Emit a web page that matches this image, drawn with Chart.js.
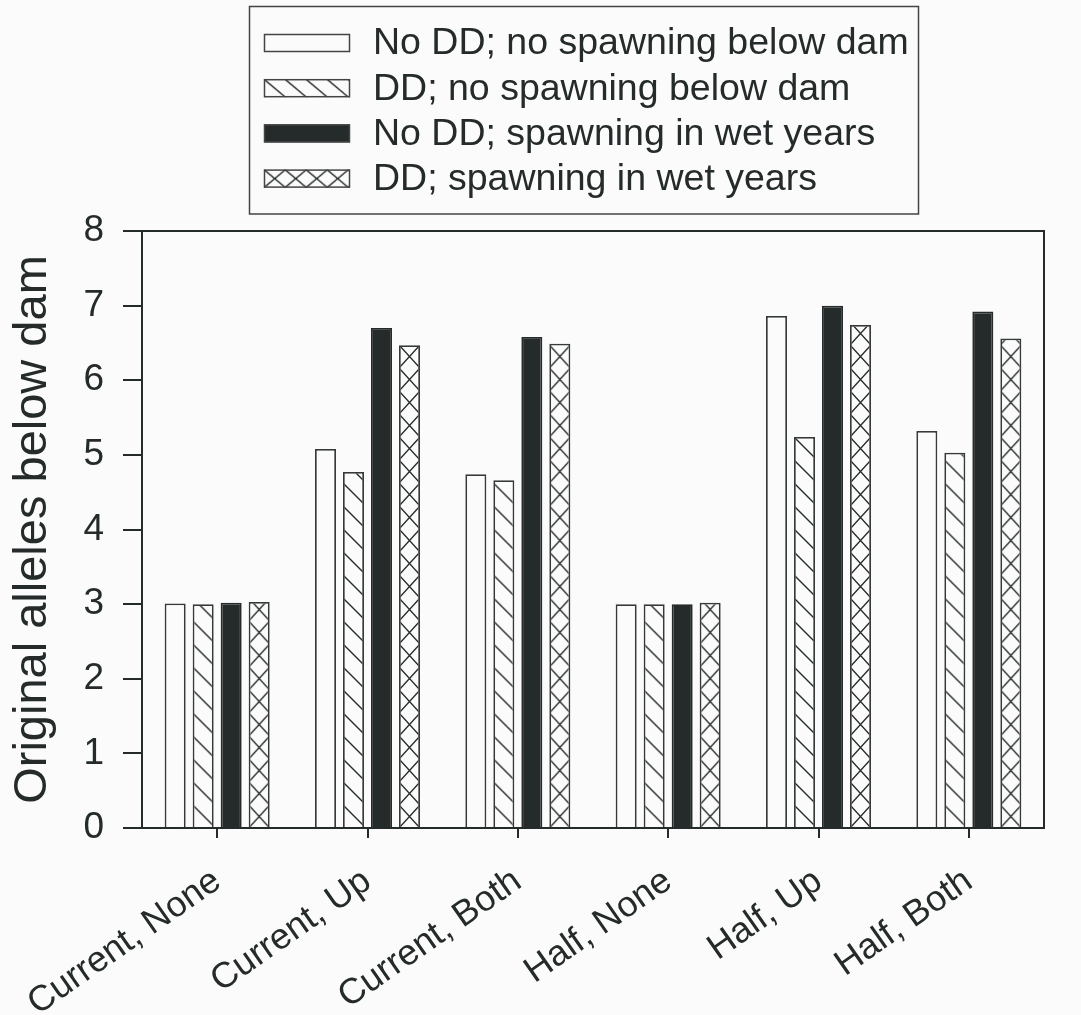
<!DOCTYPE html>
<html>
<head>
<meta charset="utf-8">
<script src="https://cdn.jsdelivr.net/npm/chart.js@4/dist/chart.umd.min.js"></script>
<style>
  html, body { margin: 0; padding: 0; background: #fbfbfb; }
  #wrap { width: 1081px; height: 1015px; position: relative; }
</style>
</head>
<body>
<div id="wrap"><canvas id="chart"></canvas></div>
<script>
// ---- data ----
const CATEGORIES = ['Current, None', 'Current, Up', 'Current, Both', 'Half, None', 'Half, Up', 'Half, Both'];
const SERIES_LABELS = [
  'No DD; no spawning below dam',
  'DD; no spawning below dam',
  'No DD; spawning in wet years',
  'DD; spawning in wet years',
];
const NO_DD_NO_SPAWN = [3.01, 5.08, 4.74, 3.00, 6.86, 5.32];
const DD_NO_SPAWN    = [3.00, 4.77, 4.66, 3.00, 5.24, 5.03];
const NO_DD_WET      = [3.02, 6.70, 6.58, 3.00, 7.00, 6.92];
const DD_WET         = [3.03, 6.47, 6.49, 3.02, 6.74, 6.56];
const Y_MIN = 0, Y_MAX = 8, Y_STEP = 1;

const INK     = '#252b2a';
const FONT    = "'Liberation Sans', Arial, sans-serif";
const CAT_PCT = 0.745;
const BAR_PCT = 0.75;

// small tiles for the hatch fills
function makeTile(w, h, kind) {
  const c = document.createElement('canvas');
  c.width = w; c.height = h;
  const g = c.getContext('2d');
  g.fillStyle = '#fbfbfb';
  g.fillRect(0, 0, w, h);
  g.strokeStyle = INK;
  g.lineWidth = 1.4;
  g.beginPath();
  for (let k = -1; k <= 1; k++) {
    g.moveTo(k * w, 0); g.lineTo(k * w + w, h);
    if (kind === 'cross') { g.moveTo(k * w + w, 0); g.lineTo(k * w, h); }
  }
  g.stroke();
  return c;
}

const BAR_TILES = [null, makeTile(23, 23, 'hatch'), null, makeTile(21, 23, 'cross')];
const KEY_TILES = [null, makeTile(21.5, 18, 'hatch'), null, makeTile(21.5, 18, 'cross')];

function tiledFill(g, tile, x0, y0) {
  const p = g.createPattern(tile, 'repeat');
  p.setTransform(new DOMMatrix().translate(x0, y0));
  return p;
}

// fill aligned to the left edge of each bar
function barFill(i) {
  return (c) => {
    const chart = c.chart;
    const xs = chart.scales.x;
    if (c.type !== 'data' || !xs || !chart.chartArea) return tiledFill(chart.ctx, BAR_TILES[i], 0, 0);
    const catW  = xs.width / CATEGORIES.length;
    const pitch = catW * CAT_PCT / SERIES_LABELS.length;
    const left  = xs.getPixelForValue(c.dataIndex) + (c.datasetIndex - 1.5) * pitch - pitch * BAR_PCT / 2;
    return tiledFill(chart.ctx, BAR_TILES[i], left, chart.chartArea.bottom);
  };
}

const background = {
  id: 'background',
  beforeDraw(chart) {
    const { ctx, width, height } = chart;
    ctx.save();
    ctx.fillStyle = '#fbfbfb';
    ctx.fillRect(0, 0, width, height);
    ctx.restore();
  },
};

const frame = {
  id: 'frame',
  afterDatasetsDraw(chart) {
    const { ctx, chartArea: a } = chart;
    ctx.save();
    ctx.strokeStyle = INK;
    ctx.lineWidth = 2;
    ctx.strokeRect(a.left, a.top, a.right - a.left, a.bottom - a.top);
    ctx.restore();
  },
};

// boxed key above the plot, one entry per row
const keyBox = {
  id: 'keyBox',
  afterDraw(chart) {
    const ctx = chart.ctx;
    ctx.save();
    ctx.strokeStyle = '#444';
    ctx.lineWidth = 1.5;
    ctx.strokeRect(249.5, 6.5, 669, 207.5);
    ctx.font = `37.5px ${FONT}`;
    ctx.textBaseline = 'middle';
    chart.data.datasets.forEach((ds, i) => {
      const cy = 43 + i * 45.2;
      const x = 264, w = 86, h = 18, y = cy - h / 2;
      ctx.fillStyle = KEY_TILES[i] ? tiledFill(ctx, KEY_TILES[i], x, y) : ds.keyColor;
      ctx.fillRect(x, y, w, h);
      ctx.strokeStyle = '#444';
      ctx.lineWidth = 1.5;
      ctx.strokeRect(x + 0.5, y + 0.5, w - 1, h - 1);
      ctx.fillStyle = INK;
      ctx.fillText(ds.label, 373, cy + 1);
    });
    ctx.restore();
  },
};

const series = [NO_DD_NO_SPAWN, DD_NO_SPAWN, NO_DD_WET, DD_WET];
const fills  = ['#fbfbfb', barFill(1), INK, barFill(3)];

new Chart(document.getElementById('chart'), {
  type: 'bar',
  data: {
    labels: CATEGORIES,
    datasets: series.map((vals, i) => ({
      label:           SERIES_LABELS[i],
      data:            vals,
      backgroundColor: fills[i],
      keyColor:        i === 2 ? INK : '#fbfbfb',
      borderColor:     i === 2 ? INK : '#353a39',
      borderWidth:     1.8,
      borderSkipped:   'start',
      categoryPercentage: CAT_PCT,
      barPercentage:      BAR_PCT,
    })),
  },
  options: {
    responsive:          true,
    maintainAspectRatio: false,
    animation:           false,
    layout: { padding: { top: 231, right: 37, left: 0, bottom: 0 } },
    plugins: {
      legend:  { display: false },
      tooltip: { enabled: false },
    },
    scales: {
      x: {
        offset: true,
        afterFit: s => { s.height = 187; s.paddingLeft = 0; s.paddingRight = 0; },
        grid:   { offset: false, drawOnChartArea: false, tickLength: 10, color: INK, lineWidth: 2 },
        border: { color: INK, width: 2 },
        ticks: {
          color: INK,
          font: { family: FONT, size: 36 },
          minRotation: 35,
          maxRotation: 35,
          autoSkip: false,
          padding: 22,
        },
      },
      y: {
        min: Y_MIN,
        max: Y_MAX,
        afterFit: s => { s.width = 142; s.paddingTop = 0; s.paddingBottom = 0; },
        grid:   { drawOnChartArea: false, tickLength: 19, color: INK, lineWidth: 2 },
        border: { color: INK, width: 2 },
        ticks: {
          stepSize: Y_STEP,
          color: INK,
          font: { family: FONT, size: 37 },
          padding: 19,
        },
        title: {
          display: true,
          text: 'Original alleles below dam',
          color: INK,
          font: { family: FONT, size: 47 },
          padding: { top: 5, bottom: 0 },
        },
      },
    },
  },
  plugins: [background, frame, keyBox],
});
</script>
</body>
</html>
